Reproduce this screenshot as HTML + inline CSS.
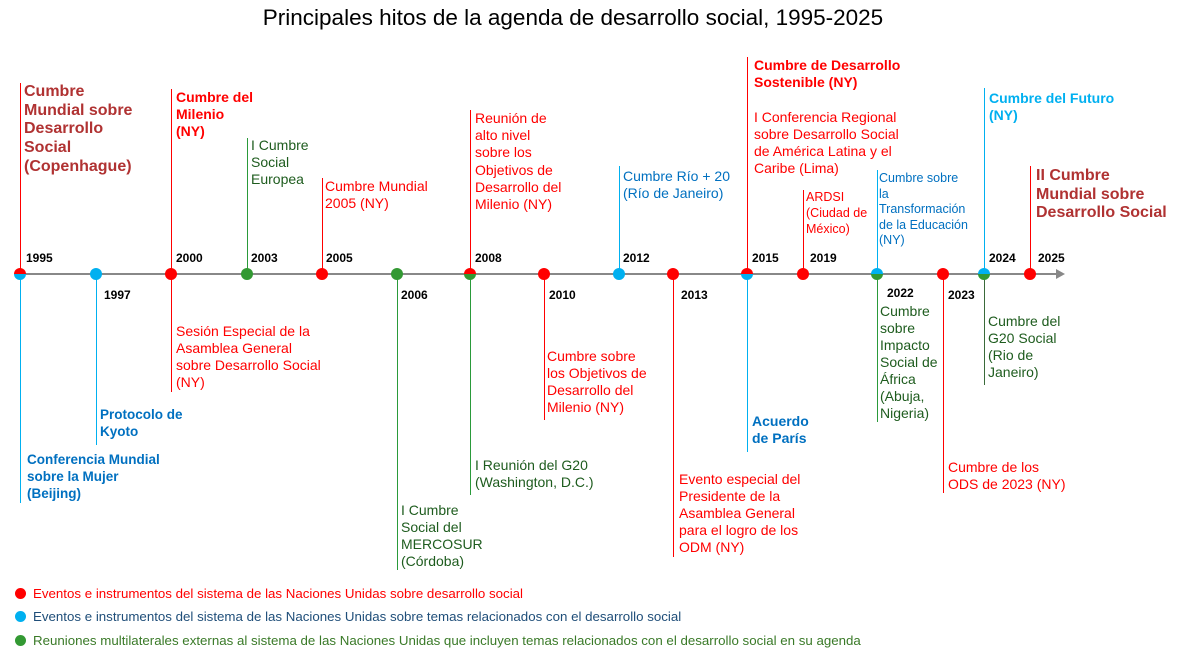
<!DOCTYPE html>
<html><head><meta charset="utf-8"><style>
body{margin:0;width:1188px;height:654px;background:#fff;position:relative;overflow:hidden;font-family:"Liberation Sans",Arial,sans-serif}
.t{position:absolute;font-size:14px;line-height:17px;white-space:nowrap}
.b{font-weight:bold}
.r{color:#ff0000}.dr{color:#b03232}.bl{color:#0070c0}.bb{color:#00b0f0}.g{color:#1e5c1e}
.y{position:absolute;font-size:12px;font-weight:bold;color:#000}
.v{position:absolute;width:1px}
.d{position:absolute;width:12px;height:12px;border-radius:50%}
.lg{position:absolute;font-size:13.3px;left:33px;white-space:nowrap}
</style></head><body>
<div style="position:absolute;left:0;width:1146px;top:5px;text-align:center;font-size:22.5px">Principales hitos de la agenda de desarrollo social, 1995-2025</div>

<div style="position:absolute;left:15px;top:273px;width:1045px;height:2px;background:#888"></div>
<div style="position:absolute;left:1056px;top:269px;width:0;height:0;border-top:5px solid transparent;border-bottom:5px solid transparent;border-left:9px solid #888"></div>

<div class="v" style="left:20px;top:83px;height:191px;background:#f00"></div>
<div class="v" style="left:20px;top:274px;height:229px;background:#00b0f0"></div>
<div class="v" style="left:96px;top:274px;height:171px;background:#00b0f0"></div>
<div class="v" style="left:171px;top:89px;height:185px;background:#f00"></div>
<div class="v" style="left:171px;top:274px;height:118px;background:#f00"></div>
<div class="v" style="left:247px;top:138px;height:136px;background:#2a9a3a"></div>
<div class="v" style="left:322px;top:178px;height:96px;background:#f00"></div>
<div class="v" style="left:397px;top:274px;height:296px;background:#2a9a3a"></div>
<div class="v" style="left:470px;top:110px;height:164px;background:#f00"></div>
<div class="v" style="left:470px;top:274px;height:221px;background:#2a9a3a"></div>
<div class="v" style="left:544px;top:274px;height:146px;background:#f00"></div>
<div class="v" style="left:619px;top:166px;height:108px;background:#00b0f0"></div>
<div class="v" style="left:673px;top:274px;height:283px;background:#f00"></div>
<div class="v" style="left:747px;top:57px;height:217px;background:#f00"></div>
<div class="v" style="left:747px;top:274px;height:178px;background:#00b0f0"></div>
<div class="v" style="left:803px;top:190px;height:84px;background:#f00"></div>
<div class="v" style="left:877px;top:170px;height:104px;background:#00b0f0"></div>
<div class="v" style="left:877px;top:274px;height:148px;background:#2a9a3a"></div>
<div class="v" style="left:943px;top:274px;height:219px;background:#f00"></div>
<div class="v" style="left:984px;top:88px;height:186px;background:#00b0f0"></div>
<div class="v" style="left:984px;top:274px;height:111px;background:#3a6a3a"></div>
<div class="v" style="left:1030px;top:166px;height:108px;background:#f00"></div>

<div class="d" style="left:14px;top:268px;background:linear-gradient(#f00 50%,#00b0f0 50%)"></div>
<div class="d" style="left:90px;top:268px;background:#00b0f0"></div>
<div class="d" style="left:165px;top:268px;background:#f00"></div>
<div class="d" style="left:241px;top:268px;background:#339933"></div>
<div class="d" style="left:316px;top:268px;background:#f00"></div>
<div class="d" style="left:391px;top:268px;background:#339933"></div>
<div class="d" style="left:464px;top:268px;background:linear-gradient(#f00 50%,#339933 50%)"></div>
<div class="d" style="left:538px;top:268px;background:#f00"></div>
<div class="d" style="left:613px;top:268px;background:#00b0f0"></div>
<div class="d" style="left:667px;top:268px;background:#f00"></div>
<div class="d" style="left:741px;top:268px;background:linear-gradient(#f00 50%,#00b0f0 50%)"></div>
<div class="d" style="left:797px;top:268px;background:#f00"></div>
<div class="d" style="left:871px;top:268px;background:linear-gradient(#00b0f0 50%,#339933 50%)"></div>
<div class="d" style="left:937px;top:268px;background:#f00"></div>
<div class="d" style="left:978px;top:268px;background:linear-gradient(#00b0f0 50%,#339933 50%)"></div>
<div class="d" style="left:1024px;top:268px;background:#f00"></div>

<div class="y" style="left:26px;top:251px">1995</div>
<div class="y" style="left:176px;top:251px">2000</div>
<div class="y" style="left:251px;top:251px">2003</div>
<div class="y" style="left:326px;top:251px">2005</div>
<div class="y" style="left:475px;top:251px">2008</div>
<div class="y" style="left:623px;top:251px">2012</div>
<div class="y" style="left:752px;top:251px">2015</div>
<div class="y" style="left:810px;top:251px">2019</div>
<div class="y" style="left:989px;top:251px">2024</div>
<div class="y" style="left:1038px;top:251px">2025</div>
<div class="y" style="left:104px;top:288px">1997</div>
<div class="y" style="left:401px;top:288px">2006</div>
<div class="y" style="left:549px;top:288px">2010</div>
<div class="y" style="left:681px;top:288px">2013</div>
<div class="y" style="left:887px;top:286px">2022</div>
<div class="y" style="left:948px;top:288px">2023</div>

<div class="t b dr" style="left:24px;top:83px;font-size:16px;line-height:18.7px">Cumbre<br>Mundial sobre<br>Desarrollo<br>Social<br>(Copenhague)</div>
<div class="t b r" style="left:176px;top:89px">Cumbre del<br>Milenio<br>(NY)</div>
<div class="t g" style="left:251px;top:137px">I Cumbre<br>Social<br>Europea</div>
<div class="t r" style="left:325px;top:178px">Cumbre Mundial<br>2005 (NY)</div>
<div class="t r" style="left:475px;top:110px;line-height:17.2px">Reunión de<br>alto nivel<br>sobre los<br>Objetivos de<br>Desarrollo del<br>Milenio (NY)</div>
<div class="t bl" style="left:623px;top:168px">Cumbre Río + 20<br>(Río de Janeiro)</div>
<div class="t b r" style="left:754px;top:57px">Cumbre de Desarrollo<br>Sostenible (NY)</div>
<div class="t r" style="left:754px;top:109px">I Conferencia Regional<br>sobre Desarrollo Social<br>de América Latina y el<br>Caribe (Lima)</div>
<div class="t r" style="left:806px;top:189px;font-size:12.5px;line-height:16px">ARDSI<br>(Ciudad de<br>México)</div>
<div class="t bl" style="left:879px;top:171px;font-size:12.5px;line-height:15.6px">Cumbre sobre<br>la<br>Transformación<br>de la Educación<br>(NY)</div>
<div class="t b bb" style="left:989px;top:90px">Cumbre del Futuro<br>(NY)</div>
<div class="t b dr" style="left:1036px;top:167px;font-size:16px;line-height:18.7px">II Cumbre<br>Mundial sobre<br>Desarrollo Social</div>

<div class="t b bl" style="left:27px;top:451px;font-size:13.5px">Conferencia Mundial<br>sobre la Mujer<br>(Beijing)</div>
<div class="t b bl" style="left:100px;top:406px;font-size:13.5px">Protocolo de<br>Kyoto</div>
<div class="t r" style="left:176px;top:323px">Sesión Especial de la<br>Asamblea General<br>sobre Desarrollo Social<br>(NY)</div>
<div class="t g" style="left:401px;top:502px">I Cumbre<br>Social del<br>MERCOSUR<br>(Córdoba)</div>
<div class="t g" style="left:475px;top:457px">I Reunión del G20<br>(Washington, D.C.)</div>
<div class="t r" style="left:547px;top:348px">Cumbre sobre<br>los Objetivos de<br>Desarrollo del<br>Milenio (NY)</div>
<div class="t r" style="left:679px;top:471px">Evento especial del<br>Presidente de la<br>Asamblea General<br>para el logro de los<br>ODM (NY)</div>
<div class="t b bl" style="left:752px;top:413px">Acuerdo<br>de París</div>
<div class="t g" style="left:880px;top:303px">Cumbre<br>sobre<br>Impacto<br>Social de<br>África<br>(Abuja,<br>Nigeria)</div>
<div class="t r" style="left:948px;top:459px">Cumbre de los<br>ODS de 2023 (NY)</div>
<div class="t g" style="left:988px;top:313px">Cumbre del<br>G20 Social<br>(Rio de<br>Janeiro)</div>

<div class="d" style="left:15px;top:588px;width:11px;height:11px;background:#f00"></div>
<div class="lg" style="top:586px;color:#ff0000">Eventos e instrumentos del sistema de las Naciones Unidas sobre desarrollo social</div>
<div class="d" style="left:15px;top:611px;width:11px;height:11px;background:#00b0f0"></div>
<div class="lg" style="top:609px;color:#1f4e79">Eventos e instrumentos del sistema de las Naciones Unidas sobre temas relacionados con el desarrollo social</div>
<div class="d" style="left:15px;top:635px;width:11px;height:11px;background:#339933"></div>
<div class="lg" style="top:633px;color:#3a7a28">Reuniones multilaterales externas al sistema de las Naciones Unidas que incluyen temas relacionados con el desarrollo social en su agenda</div>
</body></html>
